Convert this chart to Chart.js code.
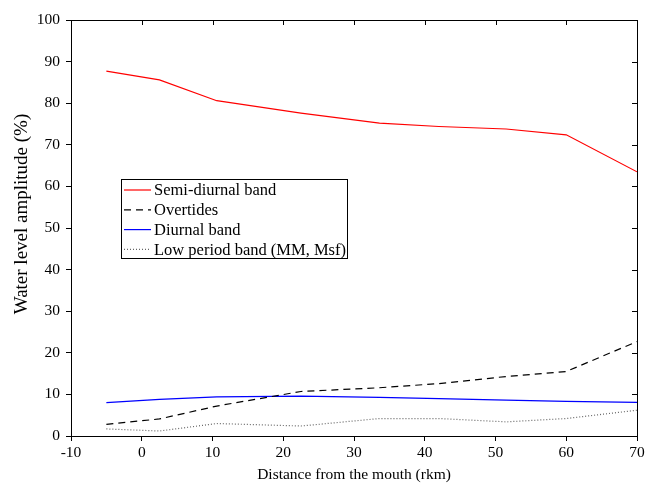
<!DOCTYPE html>
<html>
<head>
<meta charset="utf-8">
<script src="https://cdn.jsdelivr.net/npm/chart.js@4/dist/chart.umd.min.js"></script>
<style>
  html, body { margin: 0; padding: 0; background: #fff; }
  #wrap { width: 657px; height: 484px; }
</style>
</head>
<body>
<div id="wrap"><canvas id="ampChart" width="657" height="484"></canvas></div>
<script>
// distance from the mouth (rkm)
var distance = [-5, 2.5, 10.6, 22.5, 33.6, 42, 51.5, 60, 70];
// water level amplitude (%)
var semiDiurnal = [87.7, 85.6, 80.6, 77.6, 75.2, 74.4, 73.8, 72.4, 63.5];
var overtides = [2.8, 4.1, 7.2, 10.7, 11.6, 12.6, 14.3, 15.5, 22.7];
var diurnal = [8.0, 8.8, 9.4, 9.6, 9.3, 9.0, 8.6, 8.3, 8.1];
var lowPeriod = [1.7, 1.2, 3.0, 2.4, 4.2, 4.2, 3.4, 4.2, 6.2];
var seriesNames = ["Semi-diurnal band", "Overtides", "Diurnal band", "Low period band (MM, Msf)"];
var xTicks = [-10, 0, 10, 20, 30, 40, 50, 60, 70];
var yTicks = [0, 10, 20, 30, 40, 50, 60, 70, 80, 90, 100];
var yTitle = "Water level amplitude (%)";

var FONT = "'Liberation Serif', 'Times New Roman', serif";

function toPoints(vals) {
  return vals.map(function (v, i) { return { x: distance[i], y: v }; });
}

// box around plot + inward ticks on top/right, y title, legend
var framePlugin = {
  id: "frame",
  afterDraw: function (chart) {
    var ctx = chart.ctx;
    var a = chart.chartArea;
    var xs = chart.scales.x, ys = chart.scales.y;
    ctx.save();
    ctx.strokeStyle = "#000";
    ctx.lineWidth = 1;
    ctx.strokeRect(a.left + 0.5, a.top + 0.5, a.right - a.left, a.bottom - a.top);
    ctx.beginPath();
    xTicks.forEach(function (t) {
      var px = Math.round(xs.getPixelForValue(t)) + 0.5;
      ctx.moveTo(px, a.top);
      ctx.lineTo(px, a.top + 5);
    });
    yTicks.forEach(function (t) {
      var py = Math.round(ys.getPixelForValue(t)) + 0.5;
      ctx.moveTo(a.right, py);
      ctx.lineTo(a.right - 5, py);
    });
    ctx.stroke();

    // y axis title (sits a bit above the axis centre in the original)
    ctx.save();
    ctx.translate(22, 214);
    ctx.rotate(-Math.PI / 2);
    ctx.font = "19px " + FONT;
    ctx.fillStyle = "#000";
    ctx.textAlign = "center";
    ctx.textBaseline = "middle";
    ctx.fillText(yTitle, 0, 0);
    ctx.restore();

    // legend box
    var lx = 121, ly = 179, lw = 226, lh = 79;
    ctx.fillStyle = "#fff";
    ctx.fillRect(lx, ly, lw, lh);
    ctx.strokeRect(lx + 0.5, ly + 0.5, lw, lh);
    ctx.font = "16.5px " + FONT;
    ctx.textBaseline = "middle";
    ctx.textAlign = "left";
    chart.data.datasets.forEach(function (ds, i) {
      var y = ly + 11 + i * 19.8;
      ctx.beginPath();
      ctx.strokeStyle = ds.borderColor;
      ctx.lineWidth = ds.borderWidth;
      ctx.setLineDash(ds.borderDash || []);
      ctx.moveTo(lx + 3, y);
      ctx.lineTo(lx + 30, y);
      ctx.stroke();
      ctx.setLineDash([]);
      ctx.fillStyle = "#000";
      ctx.fillText(ds.label, lx + 33, y + 1);
    });
    ctx.restore();
  }
};

var ctx = document.getElementById("ampChart").getContext("2d");
var chart = new Chart(ctx, {
  type: "line",
  data: {
    datasets: [
      { label: seriesNames[0], data: toPoints(semiDiurnal), borderColor: "#ff0000", borderWidth: 1.2 },
      { label: seriesNames[1], data: toPoints(overtides), borderColor: "#000000", borderWidth: 1.2, borderDash: [7, 5] },
      { label: seriesNames[2], data: toPoints(diurnal), borderColor: "#0000ff", borderWidth: 1.2 },
      { label: seriesNames[3], data: toPoints(lowPeriod), borderColor: "#666666", borderWidth: 1.2, borderDash: [1, 2] }
    ]
  },
  options: {
    responsive: false,
    animation: false,
    events: [],
    elements: { point: { radius: 0 }, line: { tension: 0 } },
    layout: { padding: { top: 20, right: 20, left: 0, bottom: 0 } },
    plugins: { legend: { display: false }, tooltip: { enabled: false } },
    scales: {
      x: {
        type: "linear",
        min: -10,
        max: 70,
        afterBuildTicks: function (s) { s.ticks = xTicks.map(function (v) { return { value: v }; }); },
        afterFit: function (s) { s.height = 48; },
        grid: { drawOnChartArea: false, drawTicks: true, tickLength: 5, color: "#000" },
        border: { display: true, color: "#000" },
        ticks: { color: "#000", font: { family: FONT, size: 15.5 }, padding: 3, maxRotation: 0 },
        title: { display: true, text: "Distance from the mouth (rkm)", color: "#000", font: { family: FONT, size: 15.5 }, padding: { top: 0, bottom: 0 } }
      },
      y: {
        min: 0,
        max: 100,
        afterBuildTicks: function (s) { s.ticks = yTicks.map(function (v) { return { value: v }; }); },
        afterFit: function (s) { s.width = 71; },
        grid: { drawOnChartArea: false, drawTicks: true, tickLength: 5, color: "#000" },
        border: { display: true, color: "#000" },
        ticks: { color: "#000", font: { family: FONT, size: 15.5 }, padding: 6 },
        title: { display: false }
      }
    }
  },
  plugins: [framePlugin]
});
</script>
</body>
</html>
